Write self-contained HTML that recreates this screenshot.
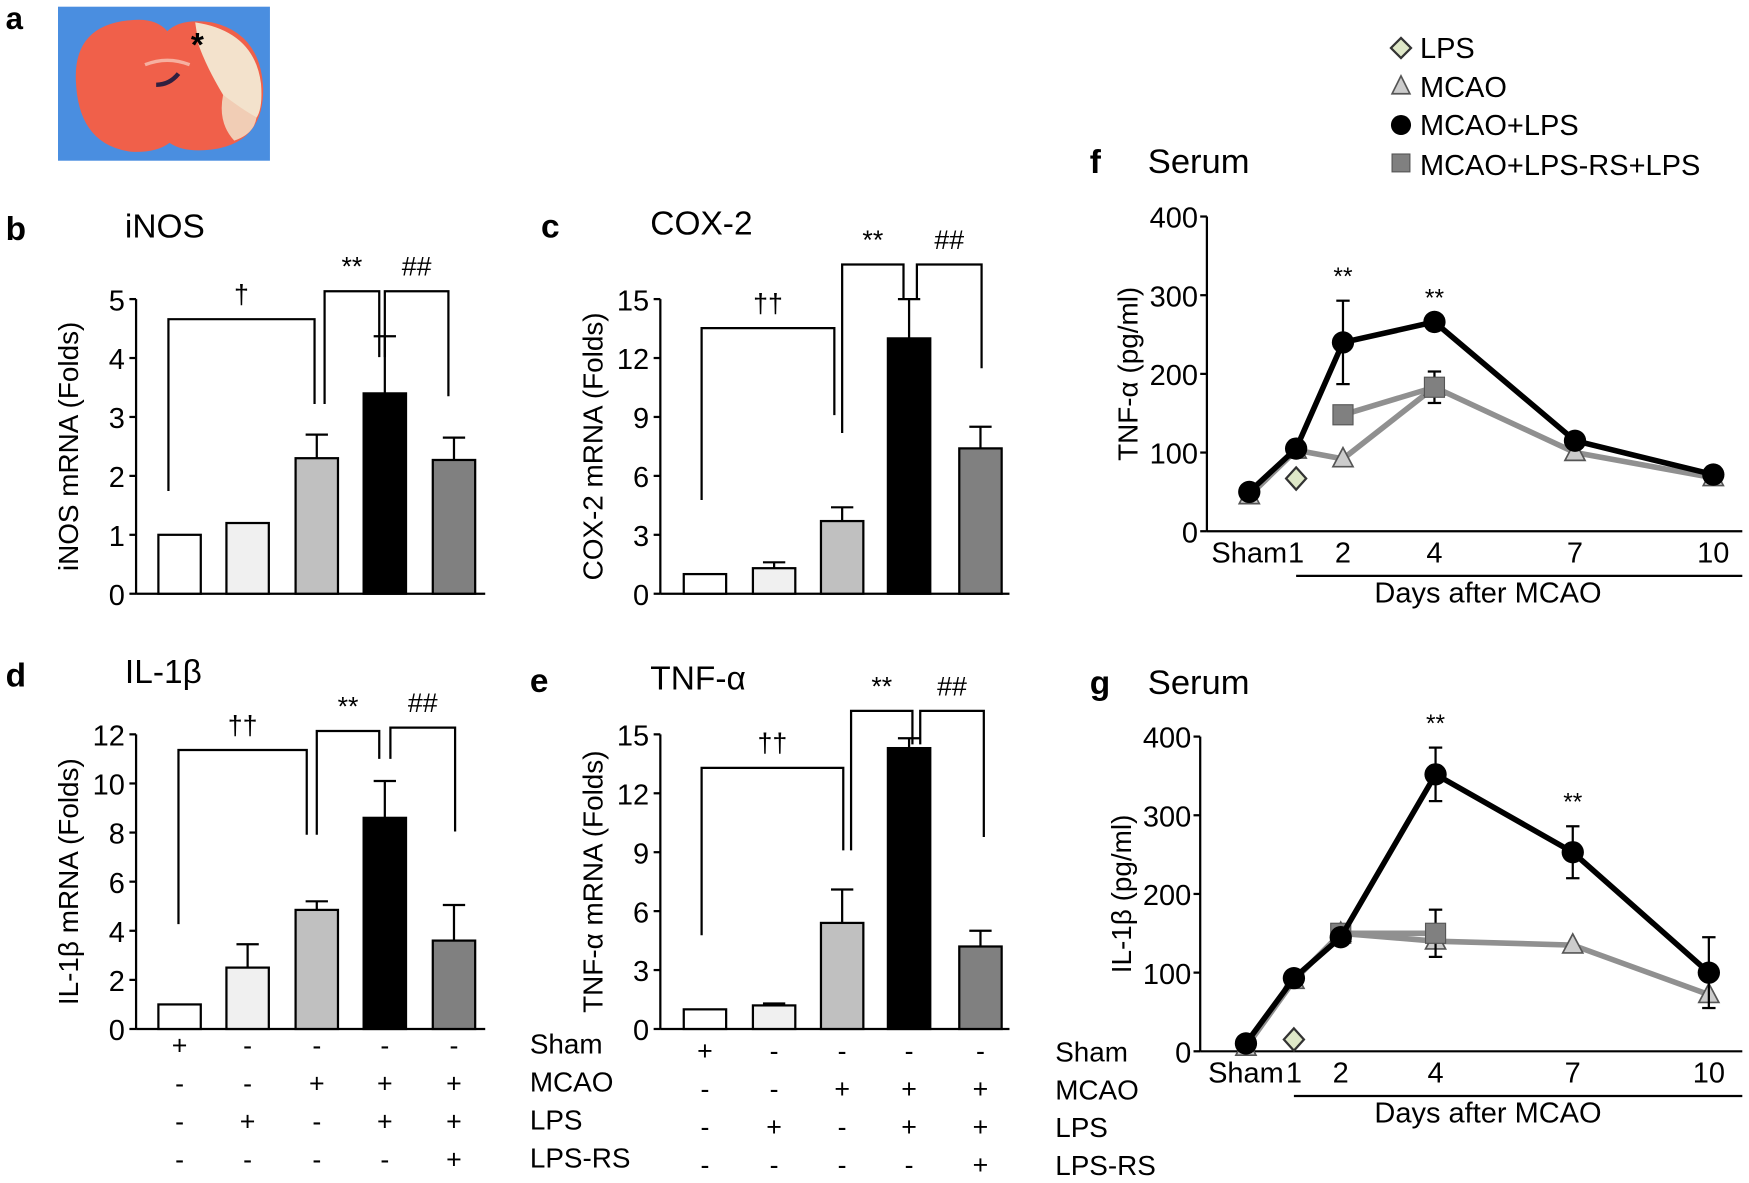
<!DOCTYPE html>
<html><head><meta charset="utf-8"><style>
html,body{margin:0;padding:0;background:#fff;}
svg{display:block;font-family:"Liberation Sans",Arial,sans-serif;}
</style></head><body>
<svg id="s" width="1749" height="1183" viewBox="0 0 1568 1060" preserveAspectRatio="none" xmlns="http://www.w3.org/2000/svg"></svg>
<script>
let o='';
function L(x1,y1,x2,y2,w,c){o+=`<line x1="${x1}" y1="${y1}" x2="${x2}" y2="${y2}" stroke="${c||'#000'}" stroke-width="${w||2}"/>`;}
function T(x,y,t,s,a,ex){o+=`<text x="${x}" y="${y}" font-size="${s}" text-anchor="${a||'start'}" ${ex||''}>${t}</text>`;}
// panel a image
o+=`<rect x="52" y="6" width="190" height="138" fill="#4a8ee0"/>
<path d="M68,72 Q66,22 118,18 Q140,16 150,28 Q162,16 190,20 Q234,30 236,80 Q236,128 190,134 Q165,137 152,128 Q140,137 118,136 Q70,130 68,72Z" fill="#f0604a"/>
<path d="M175,20 Q228,28 234,75 Q236,100 228,108 Q215,100 200,85 Q185,60 178,40 Z" fill="#f3e2cc"/>
<path d="M200,85 Q220,100 230,105 Q228,120 210,126 Q195,110 200,85Z" fill="#f1cdb5"/>
<path d="M130,58 Q150,50 170,58" stroke="#f6b0a0" stroke-width="3" fill="none"/>
<path d="M140,76 Q152,76 160,66" stroke="#302040" stroke-width="4" fill="none"/>`;
T(5,26,'a',28,'start','font-weight="bold"');T(177,50,'*',30,'middle','font-weight="bold"');
const cols=['#fff','#f0f0f0','#c0c0c0','#000','#808080'];
function bar(ax,x0,y0,yt,max,step,lab,title,letter,ly,vals,errs,xs,title_x){
  const sc=(y0-yt)/max;const Y=v=>y0-v*sc;
  L(ax,yt,ax,y0);L(ax,y0,ax+313,y0);
  for(let v=0;v<=max;v+=step){L(ax-6,Y(v),ax,Y(v));T(ax-10,Y(v)+10,v,26,'end');}
  T(letter[0],letter[1],letter[2],30,'start','font-weight="bold"');T(title_x,ly,title,30);
  o+=`<text transform="translate(${ax-52},${(y0+yt)/2}) rotate(-90)" font-size="25" text-anchor="middle">${lab}</text>`;
  vals.forEach((v,i)=>{const cx=xs[i];
    if(errs[i]){L(cx,Y(v),cx,Y(errs[i]));L(cx-10,Y(errs[i]),cx+10,Y(errs[i]));}
    o+=`<rect x="${cx-19}" y="${Y(v)}" width="38" height="${v*sc}" fill="${cols[i]}" stroke="#000" stroke-width="2"/>`;});
  return Y;
}
function brk(x1,x2,y,d1,d2,lab){o+=`<polyline points="${x1},${d1} ${x1},${y} ${x2},${y} ${x2},${d2}" fill="none" stroke="#000" stroke-width="2"/>`;T((x1+x2)/2,y-14,lab,24,'middle');}
const xb=[161,222,284,345,407],xc=[632,694,755,815,879];
bar(122,122,532,268,5,1,'iNOS mRNA (Folds)','iNOS',[5,215,'b'],213,[1,1.2,2.3,3.4,2.27],[0,0,2.7,4.37,2.65],xb,112);
brk(151,282,286,440,362,'†');brk(291,340,261,362,320,'**');brk(345,402,261,320,355,'##');
bar(592,592,532,268,15,3,'COX-2 mRNA (Folds)','COX-2',[485,213,'c'],210,[1,1.3,3.7,13,7.4],[0,1.6,4.4,15,8.5],xc,583);
brk(629,748,294,448,372,'††');brk(755,810,237,388,268,'**');brk(822,880,237,268,330,'##');
bar(122,122,922,658,12,2,'IL-1β mRNA (Folds)','IL-1β',[5,615,'d'],612,[1,2.5,4.85,8.6,3.6],[0,3.45,5.2,10.1,5.05],xb,112);
brk(160,275,672,828,748,'††');brk(284,340,655,748,680,'**');brk(350,408,652,680,745,'##');
bar(592,592,922,658,15,3,'TNF-α mRNA (Folds)','TNF-α',[475,620,'e'],618,[1,1.2,5.4,14.3,4.2],[0,1.3,7.1,14.8,5.0],xc,583);
brk(629,756,688,838,762,'††');brk(763,818,637,762,667,'**');brk(825,882,637,667,750,'##');
const sgn=[['+','-','-','-','-'],['-','-','+','+','+'],['-','+','-','+','+'],['-','-','-','-','+']];
sgn.forEach((r,j)=>r.forEach((s,i)=>{T(xb[i],945+j*34,s,24,'middle');T(xc[i],950+j*34,s,24,'middle');}));
['Sham','MCAO','LPS','LPS-RS'].forEach((t,j)=>{T(475,944+j*34,t,25);T(946,951+j*34,t,25);});
function lp(ax,y0,yt,xs,letter,ly,ylab,blk,bE,tri,sq,sqE,dia,stars){
  const sc=(y0-yt)/400,Y=v=>y0-v*sc;
  L(ax,yt,ax,y0);L(ax,y0,1562,y0);
  for(let v=0;v<=400;v+=100){L(ax-6,Y(v),ax,Y(v));T(ax-8,Y(v)+10,v,26,'end');}
  T(letter[0],ly,letter[1],30,'start','font-weight="bold"');T(letter[0]+52,ly,'Serum',31);
  o+=`<text transform="translate(${ax-62},${(y0+yt)/2}) rotate(-90)" font-size="25" text-anchor="middle">${ylab}</text>`;
  const lbl=['Sham','1','2','4','7','10'];
  lbl.forEach((t,i)=>T(xs[i],y0+28,t,26,'middle'));
  L(xs[1],y0+40,1562,y0+40);T(1334,y0+64,'Days after MCAO',26,'middle');
  const pts=(a)=>a.map((v,i)=>v==null?null:`${xs[i]},${Y(v)}`).filter(x=>x).join(' ');
  o+=`<polyline points="${pts(tri)}" fill="none" stroke="#909090" stroke-width="5"/>`;
  o+=`<polyline points="${pts(sq)}" fill="none" stroke="#909090" stroke-width="5"/>`;
  tri.forEach((v,i)=>{o+=`<polygon points="${xs[i]},${Y(v)-10} ${xs[i]-9},${Y(v)+7} ${xs[i]+9},${Y(v)+7}" fill="#ccc" stroke="#555" stroke-width="1.5"/>`;});
  sq.forEach((v,i)=>{if(v==null)return;if(sqE[i]){L(xs[i],Y(v-sqE[i]),xs[i],Y(v+sqE[i]));L(xs[i]-6,Y(v+sqE[i]),xs[i]+6,Y(v+sqE[i]));L(xs[i]-6,Y(v-sqE[i]),xs[i]+6,Y(v-sqE[i]));}
    o+=`<rect x="${xs[i]-9}" y="${Y(v)-9}" width="18" height="18" fill="#808080" stroke="#555"/>`;});
  o+=`<polyline points="${pts(blk)}" fill="none" stroke="#000" stroke-width="5"/>`;
  blk.forEach((v,i)=>{if(bE[i]){L(xs[i],Y(v-bE[i]),xs[i],Y(v+bE[i]));L(xs[i]-6,Y(v+bE[i]),xs[i]+6,Y(v+bE[i]));L(xs[i]-6,Y(v-bE[i]),xs[i]+6,Y(v-bE[i]));}
    o+=`<circle cx="${xs[i]}" cy="${Y(v)}" r="10" fill="#000"/>`;});
  o+=`<polygon points="${xs[1]},${Y(dia)-10} ${xs[1]+9},${Y(dia)} ${xs[1]},${Y(dia)+10} ${xs[1]-9},${Y(dia)}" fill="#dfe8c8" stroke="#333" stroke-width="2"/>`;
  stars.forEach(i=>T(xs[i],Y(blk[i]+bE[i])-14,'**',22,'middle'));
}
lp(1082,476,194,[1120,1162,1204,1286,1412,1536],[977,'f'],155,'TNF-α (pg/ml)',
 [50,105,240,266,115,72],[0,0,53,0,0,0],[45,103,92,183,100,68],[null,null,148,183,null,null],[0,0,0,20,0,0],67,[2,3]);
lp(1076,942,660,[1117,1160,1202,1287,1410,1532],[977,'g'],622,'IL-1β (pg/ml)',
 [10,93,145,352,253,100],[0,0,0,34,33,45],[5,90,150,140,135,72],[null,null,150,150,null,null],[0,0,0,30,0,0],15,[3,4]);
o+=`<polygon points="1256,34 1265,43 1256,52 1247,43" fill="#dfe8c8" stroke="#333" stroke-width="2"/>`;T(1273,52,'LPS',26);
o+=`<polygon points="1256,68 1248,84 1264,84" fill="#ccc" stroke="#555" stroke-width="1.5"/>`;T(1273,87,'MCAO',26);
o+=`<circle cx="1256" cy="112" r="9" fill="#000"/>`;T(1273,121,'MCAO+LPS',26);
o+=`<rect x="1248" y="138" width="16" height="16" fill="#808080" stroke="#555"/>`;T(1273,157,'MCAO+LPS-RS+LPS',26);
document.getElementById('s').innerHTML=o;
</script>
</body></html>
